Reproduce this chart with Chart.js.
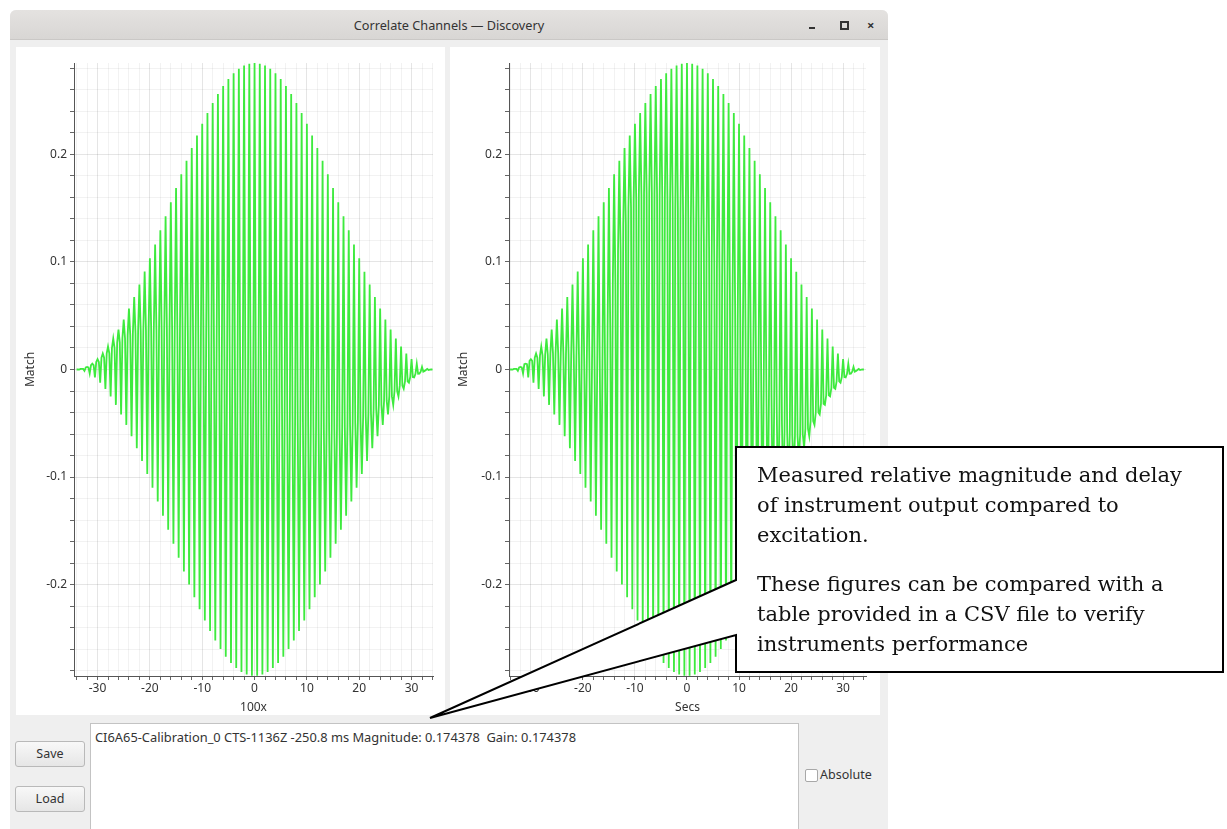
<!DOCTYPE html>
<html><head><meta charset="utf-8">
<script src="https://cdn.jsdelivr.net/npm/chart.js@4.4.0/dist/chart.umd.min.js"></script>
<style>
html,body{margin:0;padding:0;background:#fff;width:1227px;height:829px;overflow:hidden;font-family:"Noto Sans",sans-serif;}
.abs{position:absolute;}
#win{left:10px;top:10px;width:878px;height:830px;background:#efefef;border-radius:6px 6px 0 0;}
#titlebar{left:10px;top:10px;width:878px;height:29px;background:linear-gradient(#e4e2e0,#d8d6d4);border-radius:6px 6px 0 0;border-bottom:1px solid #cac8c6;}
#title{left:10px;top:10px;width:878px;height:30px;line-height:30px;text-align:center;font-size:12.7px;color:#333;}
.panel{background:#fff;}
#lp{left:16px;top:47px;width:429px;height:668px;}
#rp{left:450px;top:47px;width:430px;height:668px;}
#textbox{left:90px;top:723px;width:707px;height:110px;background:#fff;border:1px solid #c3c3c3;}
#info{left:95px;top:728px;font-size:13px;color:#333;white-space:nowrap;transform-origin:0 0;}
.btn{width:68px;height:24px;border:1px solid #b9b9b9;border-radius:3px;background:linear-gradient(#f8f8f8,#e6e6e6);font-size:12.5px;color:#333;text-align:center;line-height:24px;}
#save{left:15px;top:741px;}
#load{left:15px;top:786px;}
#chk{left:805px;top:769px;width:11px;height:11px;border:1px solid #a8a8a8;background:#fff;border-radius:2px;}
#abs{left:820px;top:766px;font-size:12.5px;color:#333;}
#callout{left:0;top:0;}
#ctext{left:757px;top:460px;width:445px;font-family:"DejaVu Serif",serif;font-size:21px;line-height:30px;color:#111;}
#ctext p{margin:0 0 19px 0;}
</style></head>
<body>
<div id="win" class="abs"></div>
<div id="titlebar" class="abs"></div>
<div id="title" class="abs">Correlate Channels — Discovery</div>
<div class="abs" style="left:809px;top:27px;width:6px;height:2px;background:#333"></div>
<div class="abs" style="left:840px;top:21px;width:5px;height:5px;border:2px solid #333"></div>
<div class="abs" style="left:867px;top:16px;font-size:13px;font-weight:bold;color:#333">×</div>
<div id="lp" class="abs panel"><canvas id="cl" width="429" height="668"></canvas></div>
<div id="rp" class="abs panel"><canvas id="cr" width="430" height="668"></canvas></div>
<div id="save" class="abs btn">Save</div>
<div id="load" class="abs btn">Load</div>
<div id="textbox" class="abs"></div>
<div id="info" class="abs">CI6A65-Calibration_0 CTS-1136Z -250.8 ms Magnitude: 0.174378&nbsp; Gain: 0.174378</div>
<div id="chk" class="abs"></div>
<div id="abs" class="abs">Absolute</div>
<svg id="callout" class="abs" width="1227" height="829">
<polygon points="736,447 1223,447 1223,672 736,672 736,635 430,718 736,580" fill="#fff" stroke="#000" stroke-width="2" stroke-linejoin="miter"/>
</svg>
<div id="ctext" class="abs"><p>Measured relative magnitude and delay of instrument output compared to excitation.</p><p>These figures can be compared with a table provided in a CSV file to verify instruments performance</p></div>
<script>
// stroke positions (one oscillation per unit)
const strokeX = [-34,-33,-32,-31,-30,-29,-28,-27,-26,-25,-24,-23,-22,-21,-20,-19,-18,-17,-16,-15,-14,-13,-12,-11,-10,-9,-8,-7,-6,-5,-4,-3,-2,-1,0,1,2,3,4,5,6,7,8,9,10,11,12,13,14,15,16,17,18,19,20,21,22,23,24,25,26,27,28,29,30,31,32,33,34];
// outer envelope: positive peaks at each stroke
const envelopeTop = [0,0.0006,0.0024,0.0054,0.0096,0.0149,0.0213,0.0288,0.0372,0.0465,0.0566,0.0675,0.0790,0.0910,0.1035,0.1163,0.1294,0.1425,0.1556,0.1687,0.1815,0.1940,0.2060,0.2175,0.2284,0.2385,0.2478,0.2562,0.2637,0.2701,0.2754,0.2796,0.2826,0.2844,0.2850,0.2844,0.2826,0.2796,0.2754,0.2701,0.2637,0.2562,0.2478,0.2385,0.2284,0.2175,0.2060,0.1940,0.1815,0.1687,0.1556,0.1425,0.1294,0.1163,0.1035,0.0910,0.0790,0.0675,0.0566,0.0465,0.0372,0.0288,0.0213,0.0149,0.0096,0.0054,0.0024,0.0006,0];
// negative troughs, half a stroke after each peak
const envelopeBottom = [-0.0001,-0.0013,-0.0038,-0.0074,-0.0122,-0.0180,-0.0250,-0.0329,-0.0418,-0.0515,-0.0620,-0.0732,-0.0850,-0.0972,-0.1099,-0.1228,-0.1359,-0.1490,-0.1621,-0.1751,-0.1878,-0.2000,-0.2118,-0.2230,-0.2335,-0.2432,-0.2521,-0.2600,-0.2670,-0.2728,-0.2776,-0.2812,-0.2836,-0.2847,-0.2847,-0.2836,-0.2812,-0.2776,-0.2728,-0.2670,-0.2600,-0.2521,-0.2432,-0.2335,-0.2230,-0.2118,-0.2000,-0.1878,-0.1751,-0.1621,-0.1490,-0.1359,-0.1228,-0.1099,-0.0972,-0.0850,-0.0732,-0.0620,-0.0515,-0.0418,-0.0329,-0.0250,-0.0180,-0.0122,-0.0074,-0.0038,-0.0013,-0.0001];
// intermediate samples (inner moire curve), left chart
const leftMid = [0,0.0005,0.002,0.004,0.007,0.011,0.015,0.020,0.025,0.029,0.032,0.034,0.036,0.037,0.037,0.037,0.037,0.037,0.037,0.037,0.037,0.036,0.034,0.032,0.029,0.025,0.021,0.017,0.012,0.007,0.002,-0.003,-0.008,-0.012,-0.016,-0.020,-0.024,-0.028,-0.032,-0.036,-0.040,-0.043,-0.046,-0.049,-0.052,-0.054,-0.055,-0.056,-0.056,-0.056,-0.055,-0.054,-0.052,-0.050,-0.047,-0.044,-0.041,-0.037,-0.033,-0.029,-0.025,-0.020,-0.015,-0.011,-0.007,-0.004,-0.002,-0.0005,0];
// intermediate samples (inner moire curve), right chart
const rightMid = [0,0.0005,0.002,0.005,0.008,0.011,0.013,0.014,0.015,0.015,0.015,0.014,0.013,0.011,0.009,0.006,0.004,0.001,0.006,0.04,0.08,0.11,0.135,0.15,0.158,0.162,0.164,0.164,0.163,0.161,0.158,0.154,0.149,0.144,0.140,0.135,0.128,0.120,0.111,0.101,0.091,0.080,0.069,0.058,0.046,0.034,0.022,0.010,-0.002,-0.014,-0.026,-0.038,-0.050,-0.057,-0.061,-0.062,-0.060,-0.055,-0.048,-0.040,-0.032,-0.024,-0.017,-0.011,-0.007,-0.004,-0.002,-0.0005,0];
const xTickLabels = [-30,-20,-10,0,10,20,30];
const yTickLabels = [-0.2,-0.1,0,0.1,0.2];

function buildSeries(mid){
  const pts=[];
  for(let i=0;i<strokeX.length;i++){
    const x=strokeX[i];
    pts.push({x:x,y:envelopeTop[i]});
    if(i<envelopeBottom.length){
      pts.push({x:x+0.25,y:mid[i]});
      pts.push({x:x+0.5,y:envelopeBottom[i]});
      pts.push({x:x+0.75,y:mid[i+1]});
    }
  }
  return pts;
}
const FONT={family:'"Noto Sans", sans-serif',size:12};
function makeChart(id,mid,xTitle,xmin,xmax,yW,padR,titlePad){
  return new Chart(document.getElementById(id),{
    type:'line',
    data:{datasets:[{data:buildSeries(mid),borderColor:'rgb(62,234,62)',borderWidth:1.8,pointRadius:0,tension:0,fill:false}]},
    options:{
      responsive:false,animation:false,devicePixelRatio:1,
      layout:{padding:{top:16,right:padR,left:0,bottom:0}},
      plugins:{legend:{display:false},tooltip:{enabled:false}},
      scales:{
        x:{type:'linear',min:xmin,max:xmax,
          ticks:{stepSize:2,includeBounds:false,autoSkip:false,maxRotation:0,color:'#333',font:FONT,padding:1,
            callback:v=>{const r=Math.round(v);return xTickLabels.includes(r)?String(r):'';}},
          grid:{color:c=>(c.tick&&Math.round(c.tick.value)%10===0)?'rgba(0,0,0,0.10)':'rgba(0,0,0,0.05)',tickColor:'#666',tickLength:4},
          border:{color:'#555',width:1},
          title:{display:true,text:xTitle,color:'#333',font:FONT,padding:{top:0,bottom:0}},
          afterFit:s=>{s.height=39;}},
        y:{type:'linear',min:-0.285,max:0.285,
          ticks:{stepSize:0.02,includeBounds:false,autoSkip:false,color:'#333',font:FONT,padding:3,
            callback:v=>{const k=Math.round(v*100);const t=yTickLabels.find(q=>Math.round(q*100)===k);return t===undefined?'':String(t);}},
          grid:{color:c=>(c.tick&&Math.round(c.tick.value*100)%10===0)?'rgba(0,0,0,0.10)':'rgba(0,0,0,0.05)',tickColor:'#666',tickLength:4},
          border:{color:'#555',width:1},
          title:{display:true,text:'Match',color:'#333',font:FONT,padding:{top:titlePad,bottom:0}},
          afterFit:s=>{s.width=yW;}}
      }
    }
  });
}
makeChart('cl',leftMid,'100x',-34.5,34.1,58,12,7);
makeChart('cr',rightMid,'Secs',-34.2,34.4,59,14,6);
// fit the status line to the width it has in the window
(function(){const el=document.getElementById('info');const w=el.getBoundingClientRect().width;el.style.transform='scaleX('+(481/w)+')';})();
</script>
</body></html>
